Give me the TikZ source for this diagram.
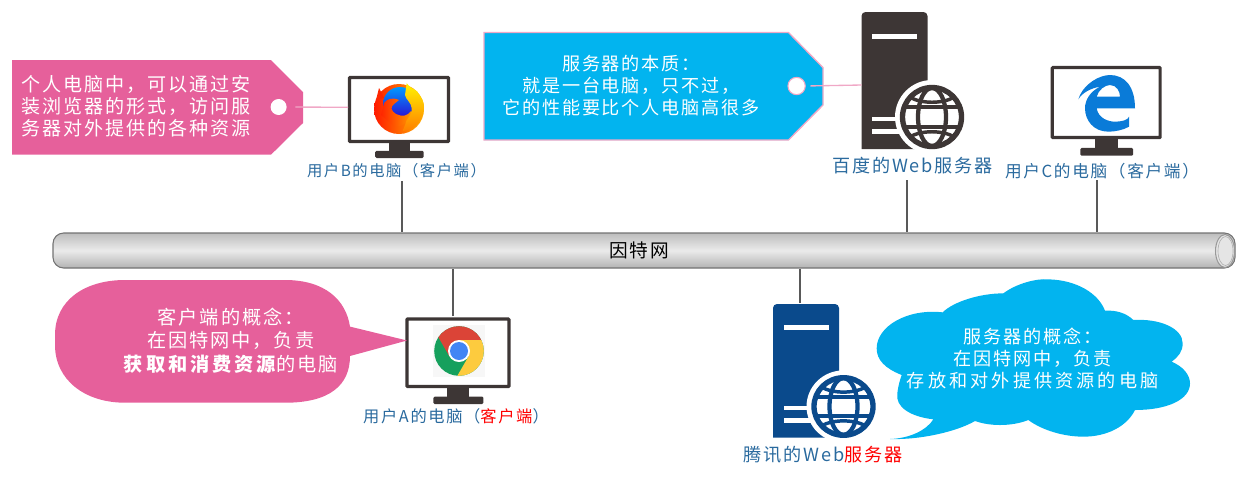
\documentclass[tikz,border=0pt]{standalone}
\usepackage{fontspec}
\setmainfont{Noto Sans CJK SC}[LetterSpace=10]
\definecolor{pinkfill}{HTML}{E6609B}
\definecolor{pinkline}{HTML}{F0A8C6}
\definecolor{bluefill}{HTML}{02B4EF}
\definecolor{darkbox}{HTML}{3D3635}
\definecolor{navybox}{HTML}{0A4A8C}
\definecolor{labelblue}{HTML}{2A6A9E}
\definecolor{edgeblue}{HTML}{0A7BD8}
\definecolor{chromered}{HTML}{DB4437}
\definecolor{chromeyellow}{HTML}{FDCB3E}
\definecolor{chromegreen}{HTML}{16A05D}
\definecolor{chromeblue}{HTML}{4285F4}
\tikzset{%
	link/.style     = {draw=black!65, line width=0.8pt}, % Wire to the tube
	tagline/.style  = {draw=pinkline, line width=1pt},
	hole/.style     = {circle, fill=white, inner sep=0pt},
	tube/.style     = {draw=black!55, line width=0.8pt, rectangle, rounded corners=8pt, minimum width=886.5pt, minimum height=26.25pt, top color=black!26, bottom color=black!30, middle color=black!8},
	tagtext/.style  = {text=white, align=center, font=\fontsize{14.3}{16.5}\selectfont},
	pclabel/.style  = {text=labelblue, font=\fontsize{11.5}{13}\selectfont},
	webname/.style  = {text=labelblue, font=\fontsize{13.6}{16}\selectfont},
	pics/monitor/.style = {code={
		\coordinate (-west) at (0,33);
		\fill[darkbox, rounded corners=1pt] (28,79) rectangle (78,86.5);
		\fill[darkbox] (42,70) rectangle (64,80);
		\draw[darkbox, fill=white, line width=2.4pt, rounded corners=0.5pt] (1.5,1.5) rectangle (103.5,69);
	}},
	pics/server/.style = {code={
		\coordinate (-west) at (0,73);
		\fill[#1] (0,137) [rounded corners=3pt] -- (0,0) -- (66,0) [sharp corners] [rounded corners=3pt] -- (66,137) [sharp corners] -- cycle;
		\fill[white] (10.5,22) rectangle (55.5,27);
		\fill[white] (10.5,105) rectangle (50,108.5);
		\fill[white] (10.5,116.5) rectangle (50,122);
		\fill[white] (70.5,105) circle[radius=37];
		\draw[#1, line width=4pt] (70.5,105) circle[radius=29.5];
		\draw[#1, line width=3.2pt] (70.5,105) ellipse[x radius=14, y radius=29];
		\draw[#1, line width=3.2pt] (42,95) -- (99,95) (42,115) -- (99,115);
		\draw[#1, line width=2.6pt] (48,85) .. controls (60,92) and (81,92) .. (93,85);
		\draw[#1, line width=2.6pt] (48,125) .. controls (60,118) and (81,118) .. (93,125);
	}},
}
\begin{document}
\begin{tikzpicture}[x=0.75pt, y=-0.75pt]
		\useasboundingbox (0,0) rectangle (1252,480);
		% tube
		\node[tube] (net) at (644,250.5) {};
		\draw[black!40, fill=black!10, line width=0.8pt] (1225,251) ellipse[x radius=9.5, y radius=16.5];
		\draw[black!30, line width=0.5pt] (1225.5,251) ellipse[x radius=7.5, y radius=14.5];
		\node[font=\fontsize{14}{16}\selectfont] (netname) at (639,250) {因特网};
		% left tag
		\fill[pinkfill] (12,60) -- (271,60) -- (303,92) -- (303,123) -- (271,154.7) -- (12,154.7) -- cycle;
		\node[hole, minimum size=12pt] (holeB) at (278.6,107) {};
		\node[tagtext] (tagB) at (136,106) {个人电脑中，可以通过安\\[0pt]装浏览器的形式，访问服\\[0pt]务器对外提供的各种资源};
		% top tag
		\draw[pinkline, fill=bluefill, line width=1pt] (484,32.5) -- (788.5,32.5) -- (823,67.6) -- (823,105) -- (788.5,140) -- (484,140) -- cycle;
		\node[hole, draw=pinkline, line width=0.8pt, minimum size=13pt] (holeS) at (796.6,86) {};
		\node[tagtext, font=\fontsize{13.6}{16.5}\selectfont] (tagS) at (631,86) {服务器的本质：\\[0pt]就是一台电脑，只不过，\\[0pt]它的性能要比个人电脑高很多};
		% computers
		\pic[xscale=0.971, yscale=0.948] (pcB) at (348,76) {monitor};
		\pic (pcA) at (405.4,317.5) {monitor};
		\pic[xscale=1.057, yscale=1.037] (pcC) at (1050.7,66) {monitor};
		\pic (baidu) at (861.5,12) {server=darkbox};
		\pic[yscale=0.976] (tencent) at (773,304) {server=navybox};
		\draw[tagline, shorten <=6.3pt] (holeB.east) -- (pcB-west);
		\draw[tagline, shorten <=3.4pt] (holeS.east) -- (baidu-west);
		% firefox
		\shade[left color=red!80!orange, right color=orange!60!yellow] (399,109) circle[radius=25];
		\fill[red!70!orange] (379,88) -- (384,98) -- (376,100) -- cycle;
		\shade[top color=blue!40!cyan, bottom color=blue!75!purple] (400,104) circle[radius=17];
		\shade[left color=red!70!orange, right color=orange!80!yellow] (384,103) .. controls (387,99) and (392,97) .. (399,100) -- (394,104) .. controls (390,107) and (391,111) .. (396,114) .. controls (402,117) and (408,116) .. (411,111) .. controls (412,120) and (404,126) .. (395,127) -- (381,115) -- cycle;
		\shade[top color=yellow!90!orange, bottom color=orange] (406.7,83.3) .. controls (412,90) and (418,90) .. (418.3,93.3) .. controls (422,98) and (424,102) .. (424,107) .. controls (424,118) and (416,130) .. (403,131) .. controls (404,126) and (406,124) .. (406.7,120) .. controls (410,116) and (412,112) .. (411.7,108) .. controls (411,102) and (406,100) .. (405,95) -- cycle;
		% chrome
		\fill[black!3] (433,325) rectangle (485,377);
		\begin{scope}[shift={(459,351)}]
			\clip (0,0) circle[radius=24.8];
			\fill[chromegreen] (-30,-30) rectangle (30,30);
			\fill[chromered] (-9.5,5.5) -- (0,-11) -- (30,-11) -- (30,-30) -- (-30,-30) -- cycle;
			\fill[chromeyellow] (30,-11) -- (0,-11) -- (9.5,5.5) -- (-4.7,30) -- (30,30) -- cycle;
			\fill[white] (0,0) circle[radius=11];
			\fill[chromeblue] (0,0) circle[radius=9];
		\end{scope}
		% edge
		\begin{scope}[shift={(1000,50)}, x=0.25pt, y=-0.25pt]
			\fill[edgeblue, even odd rule] (235,148) .. controls (250,100) and (300,75) .. (330,75) .. controls (375,75) and (405,110) .. (405,175) -- (290,175) .. controls (295,205) and (325,215) .. (345,215) .. controls (365,215) and (385,210) .. (387,200) -- (387,230) .. controls (370,240) and (345,245) .. (325,245) .. controls (280,245) and (255,210) .. (255,175) .. controls (255,150) and (270,125) .. (300,110) .. controls (270,115) and (245,130) .. (235,148) -- cycle (290,140) .. controls (295,120) and (315,105) .. (330,105) .. controls (350,105) and (360,125) .. (360,140) -- cycle;
		\end{scope}
		% pink bubble
		\fill[pinkfill] (350,326.6) -- (407,340.5) -- (350,356) .. controls (350,385) and (330,402.7) .. (285,402.7) -- (125,402.7) .. controls (85,402.7) and (55,380) .. (55,345) -- (55,335) .. controls (55,300) and (85,280) .. (125,280) -- (285,280) .. controls (325,280) and (346,300) .. (350,326.6) -- cycle;
		\node[tagtext, font=\fontsize{14.4}{17.5}\selectfont] (bubbleA) at (230.7,340.5) {客户端的概念：\\[0pt]在因特网中，负责\\[0pt]{\addfontfeature{LetterSpace=15.5}\bfseries 获取和消费资源}的电脑};
		% blue cloud
		\begin{scope}[shift={(720,260)}, x=0.25pt, y=-0.25pt]
			\fill[bluefill] (510,537) .. controls (570,535) and (620,510) .. (640,478) .. controls (570,470) and (525,440) .. (532,400) .. controls (535,375) and (540,360) .. (545,345) .. controls (495,325) and (470,300) .. (470,265) .. controls (470,200) and (560,145) .. (668,157) .. controls (700,125) and (780,100) .. (850,100) .. controls (890,70) and (950,55) .. (985,58) .. controls (1070,60) and (1135,100) .. (1155,152) .. controls (1190,150) and (1220,160) .. (1240,180) .. controls (1320,175) and (1388,205) .. (1388,250) .. controls (1388,275) and (1375,290) .. (1355,305) .. controls (1390,320) and (1410,345) .. (1410,370) .. controls (1410,420) and (1340,450) .. (1245,450) .. controls (1220,500) and (1160,530) .. (1090,530) .. controls (1030,530) and (965,510) .. (925,480) .. controls (900,490) and (870,495) .. (840,495) .. controls (810,495) and (785,490) .. (765,483) .. controls (710,515) and (600,540) .. (510,537) -- cycle;
		\end{scope}
		\node[tagtext, font=\fontsize{13.6}{16.5}\selectfont] (cloudT) at (1032.7,358.5) {服务器的概念：\\[0pt]在因特网中，负责\\[0pt]{\addfontfeature{LetterSpace=17}存放和对外提供资源的电脑}};
		% names
		\node[pclabel] (nameB) at (396.5,171) {用户B的电脑（客户端）};
		\node[pclabel, font=\fontsize{12.2}{13}\selectfont] (nameA) at (456,416) {用户A的电脑（\textcolor{red}{客户端}）};
		\node[pclabel, font=\fontsize{12.5}{14}\selectfont] (nameC) at (1102,171) {用户C的电脑（客户端）};
		\node[webname] (nameBaidu) at (912.5,166) {百度的Web服务器};
		\node[webname] (nameTencent) at (823,455) {腾讯的Web\textcolor{red}{服务器}};
		% wires
		\coordinate (tapB) at (402,181);
		\coordinate (tapS) at (907,180);
		\coordinate (tapC) at (1097,180);
		\coordinate (tapA) at (453,316);
		\coordinate (tapT) at (800,303);
		\draw[link] (tapB) -- (tapB |- net.north);
		\draw[link] (tapS) -- (tapS |- net.north);
		\draw[link] (tapC) -- (tapC |- net.north);
		\draw[link] (tapA) -- (tapA |- net.south);
		\draw[link] (tapT) -- (tapT |- net.south);
\end{tikzpicture}
\end{document}
